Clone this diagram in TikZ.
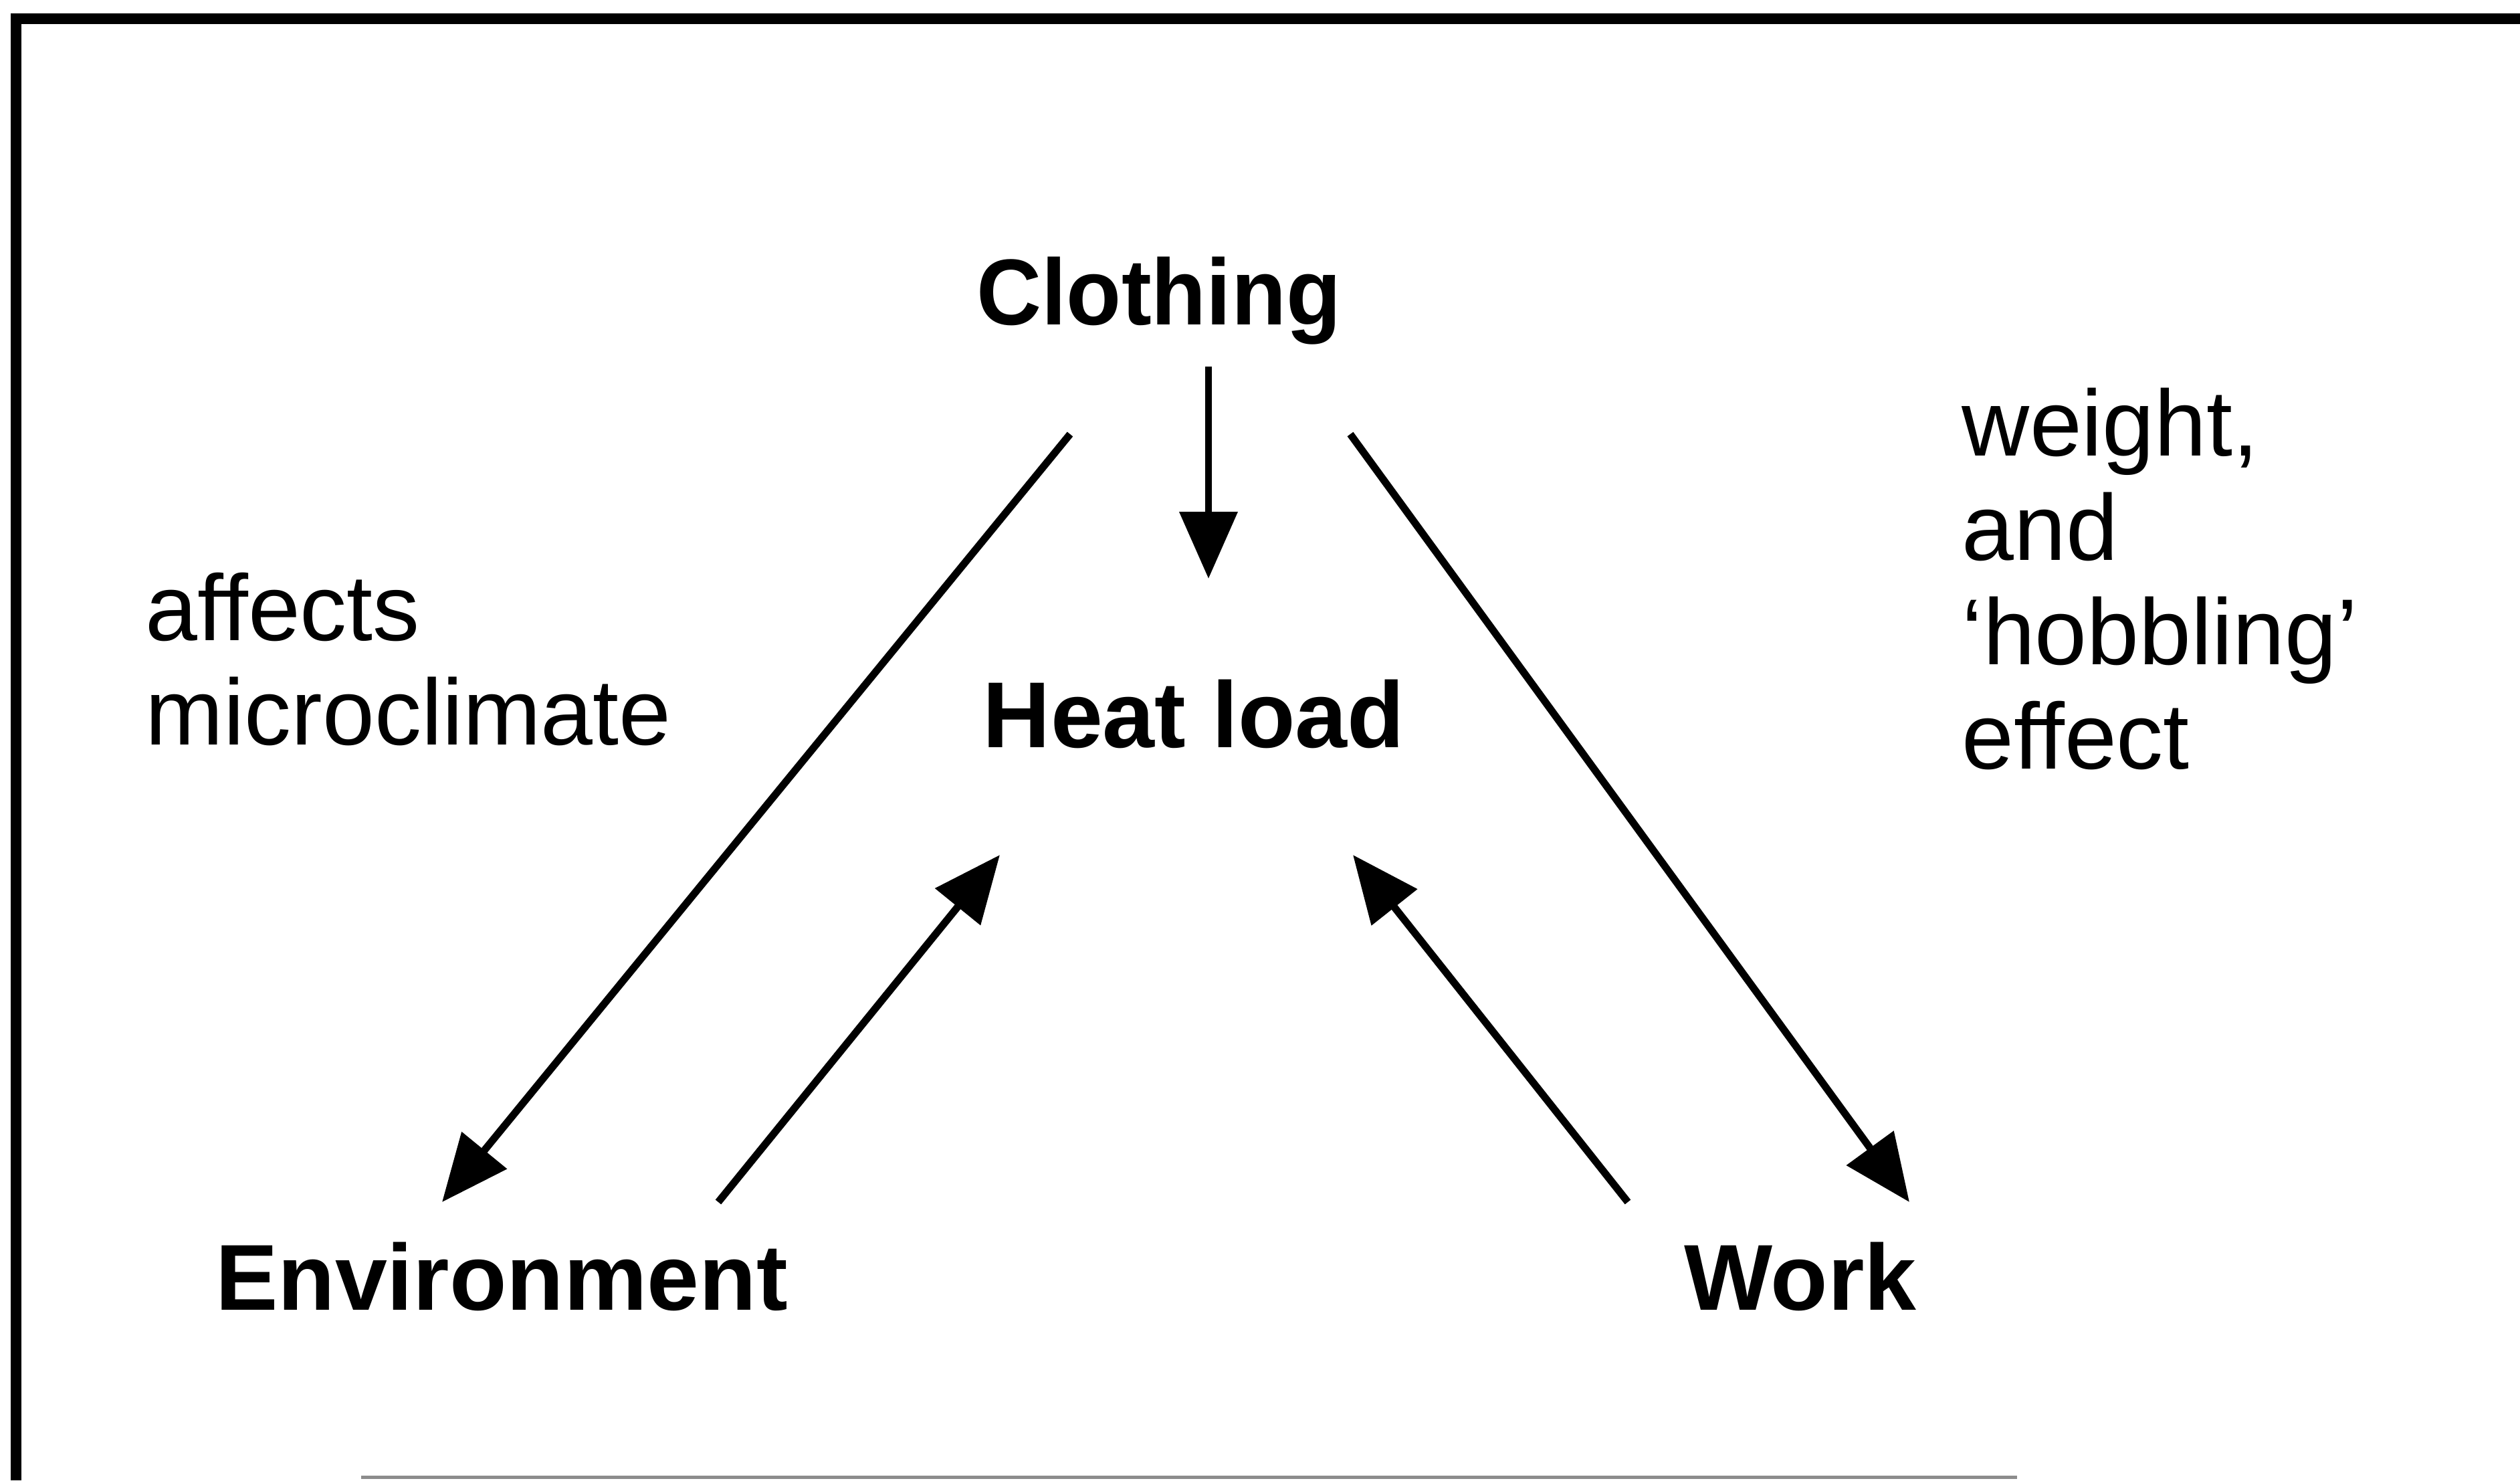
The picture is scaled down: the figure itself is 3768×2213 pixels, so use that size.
\documentclass[tikz,border=0pt]{standalone}
\usepackage{fontspec}
\setmainfont{Liberation Sans}
\usetikzlibrary{arrows.meta}
\tikzset{
  label bold/.style={font=\fontsize{14}{16}\selectfont\bfseries, inner sep=0pt, anchor=base},
  note/.style={font=\fontsize{14}{15.6}\selectfont, inner sep=0pt, align=left, anchor=base west},
  conn/.style={line width=1.1pt, -{Triangle[length=10pt,width=8.5pt]}},
  frame/.style={line width=1.6pt},
}
\begin{document}
\begin{tikzpicture}[x=0.1pt,y=-0.1pt]
\useasboundingbox (0,0) rectangle (3768,2213);
% frame
\draw[frame] (17,28) -- (3768,28);
\draw[frame] (24,20) -- (24,2213);
\draw[line width=0.5pt, black!45] (540,2208) -- (3016,2208);
% labels
\node[label bold, xscale=0.96] (Clothing) at (1733,485) {Clothing};
\node[label bold] (Heat) at (1785,1117) {Heat load};
\node[label bold] (Env) at (750,1958) {Environment};
\node[label bold] (Work) at (2692,1958) {Work};
\node[note] (affects) at (216,1113) {affects\\microclimate};
\node[note] (weight) at (2932,1149) {weight,\\and\\‘hobbling’\\effect};
% connector end points
\coordinate (cv1) at (1807,548);
\coordinate (cv2) at (1807,865);
\coordinate (cl1) at (1600,649);
\coordinate (cl2) at (661,1797);
\coordinate (el1) at (1074,1797);
\coordinate (el2) at (1495,1278);
\coordinate (wl1) at (2434,1797);
\coordinate (wl2) at (2023,1278);
\coordinate (cr1) at (2019,649);
\coordinate (cr2) at (2855,1797);
% connectors
\draw[conn] (cv1) -- (cv2);
\draw[conn] (cl1) -- (cl2);
\draw[conn] (el1) -- (el2);
\draw[conn] (wl1) -- (wl2);
\draw[conn] (cr1) -- (cr2);
\end{tikzpicture}
\end{document}
